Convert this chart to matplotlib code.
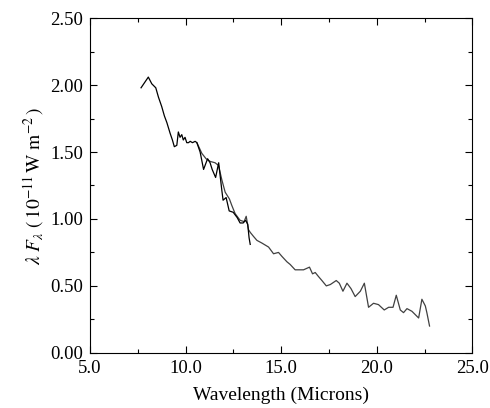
import matplotlib
matplotlib.use("Agg")
import matplotlib.pyplot as plt
from matplotlib.ticker import MultipleLocator, FormatStrFormatter

# Short-wavelength spectrum (black)
wave_a = [7.67, 8.05, 8.23, 8.44, 8.58, 8.75, 8.89, 9.02, 9.19, 9.31, 9.41, 9.54,
          9.62, 9.71, 9.80, 9.88, 9.97, 10.06, 10.15, 10.24, 10.36, 10.50, 10.59,
          10.76, 10.94, 11.15, 11.28, 11.39, 11.57, 11.73, 11.89, 11.96, 12.12,
          12.28, 12.49, 12.70, 12.85, 13.01, 13.14, 13.25, 13.32, 13.38]
flux_a = [1.98, 2.06, 2.01, 1.98, 1.91, 1.84, 1.77, 1.72, 1.64, 1.59, 1.54, 1.55,
          1.65, 1.61, 1.63, 1.59, 1.61, 1.57, 1.57, 1.58, 1.57, 1.58, 1.57,
          1.50, 1.37, 1.45, 1.42, 1.37, 1.31, 1.42, 1.22, 1.14, 1.16,
          1.06, 1.05, 1.01, 0.97, 0.97, 0.99, 0.96, 0.86, 0.81]

# Long-wavelength spectrum (grey)
wave_b = [10.59, 10.85, 11.07, 11.28, 11.54, 11.72, 11.90, 12.07, 12.29, 12.42,
          12.59, 12.85, 13.06, 13.17, 13.29, 13.38, 13.55, 13.73, 13.99, 14.34,
          14.60, 14.86, 15.04, 15.30, 15.47, 15.73, 16.17, 16.48, 16.64, 16.78,
          16.95, 17.13, 17.36, 17.57, 17.88, 18.04, 18.23, 18.44, 18.65, 18.87,
          19.14, 19.35, 19.57, 19.83, 20.09, 20.39, 20.62, 20.85, 21.02, 21.23,
          21.40, 21.58, 21.84, 22.19, 22.36, 22.54, 22.62, 22.76]
flux_b = [1.57, 1.49, 1.45, 1.43, 1.42, 1.40, 1.29, 1.20, 1.15, 1.10,
          1.04, 0.99, 0.98, 1.02, 0.92, 0.90, 0.87, 0.84, 0.82, 0.79,
          0.74, 0.75, 0.72, 0.68, 0.66, 0.62, 0.62, 0.64, 0.59, 0.60,
          0.57, 0.54, 0.50, 0.51, 0.54, 0.52, 0.46, 0.52, 0.48, 0.42,
          0.46, 0.52, 0.34, 0.37, 0.36, 0.32, 0.34, 0.34, 0.43, 0.32,
          0.30, 0.33, 0.31, 0.26, 0.40, 0.35, 0.30, 0.20]

plt.rcParams['font.family'] = ['Liberation Serif', 'DejaVu Serif']
plt.rcParams['mathtext.fontset'] = 'stix'

fig = plt.figure(figsize=(4.9, 4.08), dpi=100)
ax = fig.add_axes([0.1837, 0.1353, 0.964 - 0.1837, 0.9554 - 0.1353])

ax.plot(wave_b, flux_b, color='#404040', lw=0.9)
ax.plot(wave_a, flux_a, color='black', lw=0.9)

ax.set_xlim(5, 25)
ax.set_ylim(0, 2.5)
ax.xaxis.set_major_locator(MultipleLocator(5))
ax.xaxis.set_minor_locator(MultipleLocator(2.5))
ax.yaxis.set_major_locator(MultipleLocator(0.5))
ax.yaxis.set_minor_locator(MultipleLocator(0.25))
ax.xaxis.set_major_formatter(FormatStrFormatter('%.1f'))
ax.yaxis.set_major_formatter(FormatStrFormatter('%.2f'))
ax.tick_params(which='both', direction='in', top=True, right=True,
               labelsize=13.5, width=0.8)
ax.tick_params(which='major', length=5, pad=5)
ax.tick_params(which='minor', length=3)
for s in ax.spines.values():
    s.set_linewidth(0.8)

ax.set_xlabel('Wavelength (Microns)', fontsize=14, labelpad=7)
ax.set_ylabel(r'$\lambda\ F_\lambda\ (\,10^{-11}\,\mathrm{W\ m^{-2}}\,)$',
              fontsize=14, labelpad=3)

fig.savefig('out.png', dpi=100)
